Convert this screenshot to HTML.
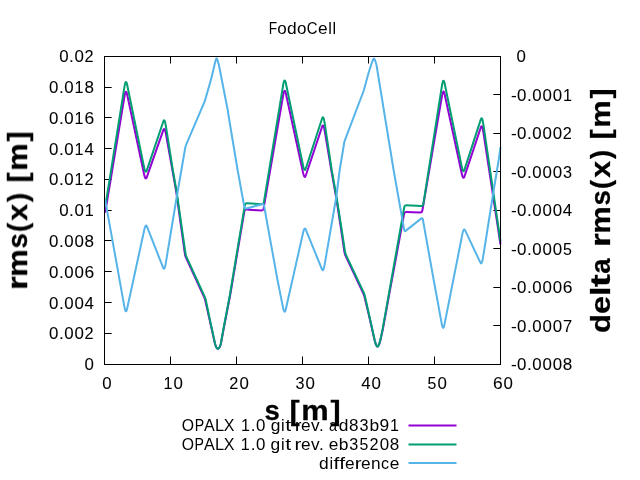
<!DOCTYPE html>
<html><head><meta charset="utf-8"><title>FodoCell</title>
<style>html,body{margin:0;padding:0;background:#fff;width:640px;height:480px;overflow:hidden}
body{font-family:"Liberation Sans",sans-serif}</style></head>
<body>
<svg width="640" height="480" viewBox="0 0 640 480" style="position:absolute;left:0;top:0;font-family:'Liberation Sans',sans-serif">
<rect x="0" y="0" width="640" height="480" fill="#ffffff"/>
<path d="M170.5 364.5v-8 M170.5 56.5v7M236.5 364.5v-8 M236.5 56.5v7M302.5 364.5v-8 M302.5 56.5v7M368.5 364.5v-8 M368.5 56.5v7M434.5 364.5v-8 M434.5 56.5v7M104.5 333.5h7.2M104.5 302.5h7.2M104.5 271.5h7.2M104.5 240.5h7.2M104.5 210.5h7.2M104.5 179.5h7.2M104.5 148.5h7.2M104.5 117.5h7.2M104.5 87.5h7.2M500.5 94.5h-7.2M500.5 133.5h-7.2M500.5 171.5h-7.2M500.5 210.5h-7.2M500.5 248.5h-7.2M500.5 287.5h-7.2M500.5 325.5h-7.2" fill="none" stroke="#000" stroke-width="1" stroke-linecap="butt"/>
<clipPath id="c"><rect x="102.0" y="56.0" width="401.0" height="309.0"/></clipPath>
<g clip-path="url(#c)">
<path fill="none" stroke="#9400D3" stroke-width="2" stroke-linejoin="round" stroke-linecap="butt" d="M105.20 212.70L124.50 96.30Q125.80 88.46 127.10 94.39L144.20 174.78Q145.50 180.64 146.80 177.14L163.30 130.13Q164.60 126.61 165.90 133.84L172.40 170.00L176.30 192.00L181.00 226.00L184.95 254.22Q185.20 256.00 185.95 257.63L204.15 297.07Q204.90 298.70 205.29 300.46L209.00 317.00L213.00 335.00L214.90 343.50L216.10 347.00L217.20 348.50L217.90 348.70L218.60 348.50L219.70 347.00L220.90 343.80L224.00 327.00L230.20 295.00L236.10 260.00L244.40 211.17Q244.70 209.40 246.50 209.52L261.40 210.48Q263.20 210.60 263.52 208.83L283.20 94.98Q284.50 87.47 285.80 93.28L303.20 173.41Q304.50 179.15 305.80 175.49L322.10 126.74Q323.40 123.04 324.70 130.77L331.30 170.00L336.20 197.50L340.60 226.00L344.44 252.22Q344.70 254.00 345.47 255.63L363.13 292.97Q363.90 294.60 364.33 296.35L368.00 311.30L372.00 328.80L374.60 340.30L375.80 344.30L376.80 346.10L377.50 346.60L378.20 346.10L379.20 344.30L380.40 340.30L382.80 329.60L390.00 290.00L395.60 260.00L404.08 213.77Q404.40 212.00 406.20 212.05L420.20 212.45Q422.00 212.50 422.31 210.73L442.00 95.83Q443.30 88.24 444.60 94.08L461.90 174.19Q463.20 179.96 464.50 176.30L480.80 127.45Q482.10 123.74 483.40 132.27L500.50 244.50"/>
<path fill="none" stroke="#009E73" stroke-width="2" stroke-linejoin="round" stroke-linecap="butt" d="M105.20 207.00L124.50 86.55Q125.80 78.44 127.10 84.58L144.20 167.85Q145.50 173.92 146.80 170.30L163.30 121.47Q164.60 117.82 165.90 126.09L172.80 170.00L176.70 192.00L181.50 226.00L185.54 253.72Q185.80 255.50 186.55 257.14L204.65 296.56Q205.40 298.20 205.77 299.96L209.30 317.00L213.20 335.00L215.00 343.50L216.10 347.00L217.20 348.50L217.90 348.70L218.60 348.50L219.60 347.00L220.80 343.80L223.80 327.00L229.90 295.00L235.70 260.00L244.90 204.88Q245.20 203.10 247.00 203.23L261.70 204.27Q263.50 204.40 263.80 202.63L283.20 84.91Q284.50 77.02 285.80 83.05L303.20 166.26Q304.50 172.23 305.80 168.48L322.10 118.48Q323.40 114.69 324.70 123.35L331.70 170.00L336.60 197.50L341.10 226.00L345.03 251.72Q345.30 253.50 346.07 255.13L363.63 292.37Q364.40 294.00 364.80 295.76L368.30 311.30L372.20 328.80L374.70 340.30L375.80 344.30L376.80 346.10L377.50 346.60L378.20 346.10L379.10 344.30L380.30 340.30L382.50 329.60L389.60 290.00L394.90 260.00L404.29 206.97Q404.60 205.20 406.40 205.30L421.20 206.10Q423.00 206.20 423.29 204.42L442.00 85.46Q443.30 77.20 444.60 83.33L461.90 167.40Q463.20 173.45 464.50 169.69L480.80 119.43Q482.10 115.62 483.40 124.52L500.50 241.50"/>
<path fill="none" stroke="#56B4E9" stroke-width="2" stroke-linejoin="round" stroke-linecap="butt" d="M105.20 200.10L124.50 307.33Q125.80 314.56 127.10 308.76L144.40 229.33Q145.70 223.60 147.00 226.68L163.20 267.83Q164.50 270.95 165.80 263.07L176.20 200.00L181.40 170.00L185.19 147.97Q185.50 146.20 186.21 144.55L204.80 101.20L211.30 78.50L214.50 65.00L215.40 61.20L216.00 59.20L216.60 58.40L217.20 59.20L217.80 61.20L218.90 65.00L227.70 110.00L230.10 125.00L237.60 170.00L244.38 207.23Q244.70 209.00 246.43 208.52L261.97 204.18Q263.70 203.70 264.02 205.47L277.50 280.00L283.20 308.35Q284.50 314.81 285.80 309.22L303.20 232.21Q304.50 226.67 305.80 229.65L322.00 269.33Q323.30 272.34 324.60 264.80L336.20 197.50L339.70 170.00L344.11 143.28Q344.40 141.50 345.04 139.82L363.60 91.00L368.40 73.50L371.10 65.00L372.50 61.00L373.30 59.20L373.90 58.50L374.50 59.20L375.30 61.00L376.50 65.00L393.60 170.00L404.19 229.93Q404.50 231.70 405.91 230.59L421.09 218.61Q422.50 217.50 422.82 219.27L433.70 280.00L441.80 324.18Q443.10 331.27 444.40 324.87L462.40 233.92Q463.70 227.59 465.00 230.11L480.50 262.84Q481.80 265.40 483.10 257.16L493.70 190.00L498.70 160.00L500.50 147.20"/>
</g>
<rect x="104.5" y="56.5" width="396.0" height="308.0" fill="none" stroke="#000" stroke-width="1"/>
<g opacity="0.999">
<text font-size="16.96px" stroke="#000" stroke-width="0.07" stroke-linejoin="round" y="370.10" fill="#000"><tspan x="84.62" textLength="9.38" lengthAdjust="spacingAndGlyphs">0</tspan></text>
<text font-size="16.96px" stroke="#000" stroke-width="0.07" stroke-linejoin="round" y="339.30" fill="#000"><tspan x="48.99" textLength="9.38" lengthAdjust="spacingAndGlyphs">0</tspan><tspan x="58.91" textLength="4.81" lengthAdjust="spacingAndGlyphs">.</tspan><tspan x="64.26" textLength="9.38" lengthAdjust="spacingAndGlyphs">0</tspan><tspan x="74.44" textLength="9.38" lengthAdjust="spacingAndGlyphs">0</tspan><tspan x="84.57" textLength="9.04" lengthAdjust="spacingAndGlyphs">2</tspan></text>
<text font-size="16.96px" stroke="#000" stroke-width="0.07" stroke-linejoin="round" y="308.50" fill="#000"><tspan x="48.99" textLength="9.38" lengthAdjust="spacingAndGlyphs">0</tspan><tspan x="58.91" textLength="4.81" lengthAdjust="spacingAndGlyphs">.</tspan><tspan x="64.26" textLength="9.38" lengthAdjust="spacingAndGlyphs">0</tspan><tspan x="74.44" textLength="9.38" lengthAdjust="spacingAndGlyphs">0</tspan><tspan x="84.61" textLength="9.38" lengthAdjust="spacingAndGlyphs">4</tspan></text>
<text font-size="16.96px" stroke="#000" stroke-width="0.07" stroke-linejoin="round" y="277.70" fill="#000"><tspan x="48.99" textLength="9.38" lengthAdjust="spacingAndGlyphs">0</tspan><tspan x="58.91" textLength="4.81" lengthAdjust="spacingAndGlyphs">.</tspan><tspan x="64.26" textLength="9.38" lengthAdjust="spacingAndGlyphs">0</tspan><tspan x="74.44" textLength="9.38" lengthAdjust="spacingAndGlyphs">0</tspan><tspan x="84.45" textLength="9.71" lengthAdjust="spacingAndGlyphs">6</tspan></text>
<text font-size="16.96px" stroke="#000" stroke-width="0.07" stroke-linejoin="round" y="246.90" fill="#000"><tspan x="48.99" textLength="9.38" lengthAdjust="spacingAndGlyphs">0</tspan><tspan x="58.91" textLength="4.81" lengthAdjust="spacingAndGlyphs">.</tspan><tspan x="64.26" textLength="9.38" lengthAdjust="spacingAndGlyphs">0</tspan><tspan x="74.44" textLength="9.38" lengthAdjust="spacingAndGlyphs">0</tspan><tspan x="84.57" textLength="9.48" lengthAdjust="spacingAndGlyphs">8</tspan></text>
<text font-size="16.96px" stroke="#000" stroke-width="0.07" stroke-linejoin="round" y="216.10" fill="#000"><tspan x="59.17" textLength="9.38" lengthAdjust="spacingAndGlyphs">0</tspan><tspan x="69.08" textLength="4.81" lengthAdjust="spacingAndGlyphs">.</tspan><tspan x="74.44" textLength="9.38" lengthAdjust="spacingAndGlyphs">0</tspan><tspan x="84.75" textLength="8.96" lengthAdjust="spacingAndGlyphs">1</tspan></text>
<text font-size="16.96px" stroke="#000" stroke-width="0.07" stroke-linejoin="round" y="185.30" fill="#000"><tspan x="48.99" textLength="9.38" lengthAdjust="spacingAndGlyphs">0</tspan><tspan x="58.91" textLength="4.81" lengthAdjust="spacingAndGlyphs">.</tspan><tspan x="64.26" textLength="9.38" lengthAdjust="spacingAndGlyphs">0</tspan><tspan x="74.57" textLength="8.96" lengthAdjust="spacingAndGlyphs">1</tspan><tspan x="84.57" textLength="9.04" lengthAdjust="spacingAndGlyphs">2</tspan></text>
<text font-size="16.96px" stroke="#000" stroke-width="0.07" stroke-linejoin="round" y="154.50" fill="#000"><tspan x="48.99" textLength="9.38" lengthAdjust="spacingAndGlyphs">0</tspan><tspan x="58.91" textLength="4.81" lengthAdjust="spacingAndGlyphs">.</tspan><tspan x="64.26" textLength="9.38" lengthAdjust="spacingAndGlyphs">0</tspan><tspan x="74.57" textLength="8.96" lengthAdjust="spacingAndGlyphs">1</tspan><tspan x="84.61" textLength="9.38" lengthAdjust="spacingAndGlyphs">4</tspan></text>
<text font-size="16.96px" stroke="#000" stroke-width="0.07" stroke-linejoin="round" y="123.70" fill="#000"><tspan x="48.99" textLength="9.38" lengthAdjust="spacingAndGlyphs">0</tspan><tspan x="58.91" textLength="4.81" lengthAdjust="spacingAndGlyphs">.</tspan><tspan x="64.26" textLength="9.38" lengthAdjust="spacingAndGlyphs">0</tspan><tspan x="74.57" textLength="8.96" lengthAdjust="spacingAndGlyphs">1</tspan><tspan x="84.45" textLength="9.71" lengthAdjust="spacingAndGlyphs">6</tspan></text>
<text font-size="16.96px" stroke="#000" stroke-width="0.07" stroke-linejoin="round" y="92.90" fill="#000"><tspan x="48.99" textLength="9.38" lengthAdjust="spacingAndGlyphs">0</tspan><tspan x="58.91" textLength="4.81" lengthAdjust="spacingAndGlyphs">.</tspan><tspan x="64.26" textLength="9.38" lengthAdjust="spacingAndGlyphs">0</tspan><tspan x="74.57" textLength="8.96" lengthAdjust="spacingAndGlyphs">1</tspan><tspan x="84.57" textLength="9.48" lengthAdjust="spacingAndGlyphs">8</tspan></text>
<text font-size="16.96px" stroke="#000" stroke-width="0.07" stroke-linejoin="round" y="62.10" fill="#000"><tspan x="59.17" textLength="9.38" lengthAdjust="spacingAndGlyphs">0</tspan><tspan x="69.08" textLength="4.81" lengthAdjust="spacingAndGlyphs">.</tspan><tspan x="74.44" textLength="9.38" lengthAdjust="spacingAndGlyphs">0</tspan><tspan x="84.57" textLength="9.04" lengthAdjust="spacingAndGlyphs">2</tspan></text>
<text font-size="16.96px" stroke="#000" stroke-width="0.07" stroke-linejoin="round" y="62.10" fill="#000"> <tspan x="516.38" textLength="9.38" lengthAdjust="spacingAndGlyphs">0</tspan></text>
<text font-size="16.96px" stroke="#000" stroke-width="0.07" stroke-linejoin="round" y="100.60" fill="#000"><tspan x="510.91" textLength="5.74" lengthAdjust="spacingAndGlyphs">-</tspan><tspan x="517.07" textLength="9.38" lengthAdjust="spacingAndGlyphs">0</tspan><tspan x="526.98" textLength="4.81" lengthAdjust="spacingAndGlyphs">.</tspan><tspan x="532.33" textLength="9.38" lengthAdjust="spacingAndGlyphs">0</tspan><tspan x="542.51" textLength="9.38" lengthAdjust="spacingAndGlyphs">0</tspan><tspan x="552.69" textLength="9.38" lengthAdjust="spacingAndGlyphs">0</tspan><tspan x="563.01" textLength="8.96" lengthAdjust="spacingAndGlyphs">1</tspan></text>
<text font-size="16.96px" stroke="#000" stroke-width="0.07" stroke-linejoin="round" y="139.10" fill="#000"><tspan x="510.91" textLength="5.74" lengthAdjust="spacingAndGlyphs">-</tspan><tspan x="517.07" textLength="9.38" lengthAdjust="spacingAndGlyphs">0</tspan><tspan x="526.98" textLength="4.81" lengthAdjust="spacingAndGlyphs">.</tspan><tspan x="532.33" textLength="9.38" lengthAdjust="spacingAndGlyphs">0</tspan><tspan x="542.51" textLength="9.38" lengthAdjust="spacingAndGlyphs">0</tspan><tspan x="552.69" textLength="9.38" lengthAdjust="spacingAndGlyphs">0</tspan><tspan x="562.83" textLength="9.04" lengthAdjust="spacingAndGlyphs">2</tspan></text>
<text font-size="16.96px" stroke="#000" stroke-width="0.07" stroke-linejoin="round" y="177.60" fill="#000"><tspan x="510.91" textLength="5.74" lengthAdjust="spacingAndGlyphs">-</tspan><tspan x="517.07" textLength="9.38" lengthAdjust="spacingAndGlyphs">0</tspan><tspan x="526.98" textLength="4.81" lengthAdjust="spacingAndGlyphs">.</tspan><tspan x="532.33" textLength="9.38" lengthAdjust="spacingAndGlyphs">0</tspan><tspan x="542.51" textLength="9.38" lengthAdjust="spacingAndGlyphs">0</tspan><tspan x="552.69" textLength="9.38" lengthAdjust="spacingAndGlyphs">0</tspan><tspan x="563.08" textLength="9.01" lengthAdjust="spacingAndGlyphs">3</tspan></text>
<text font-size="16.96px" stroke="#000" stroke-width="0.07" stroke-linejoin="round" y="216.10" fill="#000"><tspan x="510.91" textLength="5.74" lengthAdjust="spacingAndGlyphs">-</tspan><tspan x="517.07" textLength="9.38" lengthAdjust="spacingAndGlyphs">0</tspan><tspan x="526.98" textLength="4.81" lengthAdjust="spacingAndGlyphs">.</tspan><tspan x="532.33" textLength="9.38" lengthAdjust="spacingAndGlyphs">0</tspan><tspan x="542.51" textLength="9.38" lengthAdjust="spacingAndGlyphs">0</tspan><tspan x="552.69" textLength="9.38" lengthAdjust="spacingAndGlyphs">0</tspan><tspan x="562.87" textLength="9.38" lengthAdjust="spacingAndGlyphs">4</tspan></text>
<text font-size="16.96px" stroke="#000" stroke-width="0.07" stroke-linejoin="round" y="254.60" fill="#000"><tspan x="510.91" textLength="5.74" lengthAdjust="spacingAndGlyphs">-</tspan><tspan x="517.07" textLength="9.38" lengthAdjust="spacingAndGlyphs">0</tspan><tspan x="526.98" textLength="4.81" lengthAdjust="spacingAndGlyphs">.</tspan><tspan x="532.33" textLength="9.38" lengthAdjust="spacingAndGlyphs">0</tspan><tspan x="542.51" textLength="9.38" lengthAdjust="spacingAndGlyphs">0</tspan><tspan x="552.69" textLength="9.38" lengthAdjust="spacingAndGlyphs">0</tspan><tspan x="563.08" textLength="8.85" lengthAdjust="spacingAndGlyphs">5</tspan></text>
<text font-size="16.96px" stroke="#000" stroke-width="0.07" stroke-linejoin="round" y="293.10" fill="#000"><tspan x="510.91" textLength="5.74" lengthAdjust="spacingAndGlyphs">-</tspan><tspan x="517.07" textLength="9.38" lengthAdjust="spacingAndGlyphs">0</tspan><tspan x="526.98" textLength="4.81" lengthAdjust="spacingAndGlyphs">.</tspan><tspan x="532.33" textLength="9.38" lengthAdjust="spacingAndGlyphs">0</tspan><tspan x="542.51" textLength="9.38" lengthAdjust="spacingAndGlyphs">0</tspan><tspan x="552.69" textLength="9.38" lengthAdjust="spacingAndGlyphs">0</tspan><tspan x="562.71" textLength="9.71" lengthAdjust="spacingAndGlyphs">6</tspan></text>
<text font-size="16.96px" stroke="#000" stroke-width="0.07" stroke-linejoin="round" y="331.60" fill="#000"><tspan x="510.91" textLength="5.74" lengthAdjust="spacingAndGlyphs">-</tspan><tspan x="517.07" textLength="9.38" lengthAdjust="spacingAndGlyphs">0</tspan><tspan x="526.98" textLength="4.81" lengthAdjust="spacingAndGlyphs">.</tspan><tspan x="532.33" textLength="9.38" lengthAdjust="spacingAndGlyphs">0</tspan><tspan x="542.51" textLength="9.38" lengthAdjust="spacingAndGlyphs">0</tspan><tspan x="552.69" textLength="9.38" lengthAdjust="spacingAndGlyphs">0</tspan><tspan x="562.94" textLength="9.18" lengthAdjust="spacingAndGlyphs">7</tspan></text>
<text font-size="16.96px" stroke="#000" stroke-width="0.07" stroke-linejoin="round" y="370.10" fill="#000"><tspan x="510.91" textLength="5.74" lengthAdjust="spacingAndGlyphs">-</tspan><tspan x="517.07" textLength="9.38" lengthAdjust="spacingAndGlyphs">0</tspan><tspan x="526.98" textLength="4.81" lengthAdjust="spacingAndGlyphs">.</tspan><tspan x="532.33" textLength="9.38" lengthAdjust="spacingAndGlyphs">0</tspan><tspan x="542.51" textLength="9.38" lengthAdjust="spacingAndGlyphs">0</tspan><tspan x="552.69" textLength="9.38" lengthAdjust="spacingAndGlyphs">0</tspan><tspan x="562.82" textLength="9.48" lengthAdjust="spacingAndGlyphs">8</tspan></text>
<text font-size="16.96px" stroke="#000" stroke-width="0.07" stroke-linejoin="round" y="388.70" fill="#000"> <tspan x="102.35" textLength="9.38" lengthAdjust="spacingAndGlyphs">0</tspan></text>
<text font-size="16.96px" stroke="#000" stroke-width="0.07" stroke-linejoin="round" y="388.70" fill="#000"> <tspan x="163.39" textLength="8.96" lengthAdjust="spacingAndGlyphs">1</tspan><tspan x="173.44" textLength="9.38" lengthAdjust="spacingAndGlyphs">0</tspan></text>
<text font-size="16.96px" stroke="#000" stroke-width="0.07" stroke-linejoin="round" y="388.70" fill="#000"> <tspan x="229.22" textLength="9.04" lengthAdjust="spacingAndGlyphs">2</tspan><tspan x="239.44" textLength="9.38" lengthAdjust="spacingAndGlyphs">0</tspan></text>
<text font-size="16.96px" stroke="#000" stroke-width="0.07" stroke-linejoin="round" y="388.70" fill="#000"> <tspan x="295.47" textLength="9.01" lengthAdjust="spacingAndGlyphs">3</tspan><tspan x="305.44" textLength="9.38" lengthAdjust="spacingAndGlyphs">0</tspan></text>
<text font-size="16.96px" stroke="#000" stroke-width="0.07" stroke-linejoin="round" y="388.70" fill="#000"> <tspan x="361.26" textLength="9.38" lengthAdjust="spacingAndGlyphs">4</tspan><tspan x="371.44" textLength="9.38" lengthAdjust="spacingAndGlyphs">0</tspan></text>
<text font-size="16.96px" stroke="#000" stroke-width="0.07" stroke-linejoin="round" y="388.70" fill="#000"> <tspan x="427.46" textLength="8.85" lengthAdjust="spacingAndGlyphs">5</tspan><tspan x="437.44" textLength="9.38" lengthAdjust="spacingAndGlyphs">0</tspan></text>
<text font-size="16.96px" stroke="#000" stroke-width="0.07" stroke-linejoin="round" y="388.70" fill="#000"> <tspan x="493.09" textLength="9.71" lengthAdjust="spacingAndGlyphs">6</tspan><tspan x="503.44" textLength="9.38" lengthAdjust="spacingAndGlyphs">0</tspan></text>
<text font-size="16.96px" y="34.30" fill="#000"><tspan x="268.81" textLength="8.38" lengthAdjust="spacingAndGlyphs">F</tspan><tspan x="277.16" textLength="9.46" lengthAdjust="spacingAndGlyphs">o</tspan><tspan x="286.94" textLength="9.67" lengthAdjust="spacingAndGlyphs">d</tspan><tspan x="297.11" textLength="9.46" lengthAdjust="spacingAndGlyphs">o</tspan><tspan x="306.87" textLength="10.73" lengthAdjust="spacingAndGlyphs">C</tspan><tspan x="318.05" textLength="9.61" lengthAdjust="spacingAndGlyphs">e</tspan><tspan x="328.15" textLength="3.63" lengthAdjust="spacingAndGlyphs">l</tspan><tspan x="332.60" textLength="3.63" lengthAdjust="spacingAndGlyphs">l</tspan></text>
<text font-size="27.74px" font-weight="bold" stroke="#000" stroke-width="0.27" stroke-linejoin="round" y="420.00" fill="#000"><tspan x="264.41" textLength="15.33" lengthAdjust="spacingAndGlyphs">s</tspan> <tspan x="289.58" textLength="10.18" lengthAdjust="spacingAndGlyphs">[</tspan><tspan x="301.18" textLength="27.41" lengthAdjust="spacingAndGlyphs">m</tspan><tspan x="330.44" textLength="10.18" lengthAdjust="spacingAndGlyphs">]</tspan></text>
<text font-size="27.74px" font-weight="bold" stroke="#000" stroke-width="0.27" stroke-linejoin="round" transform="translate(27.00 210.50) rotate(-90)" y="0.00" fill="#000"><tspan x="-79.58" textLength="13.69" lengthAdjust="spacingAndGlyphs">r</tspan><tspan x="-66.32" textLength="27.41" lengthAdjust="spacingAndGlyphs">m</tspan><tspan x="-38.09" textLength="15.33" lengthAdjust="spacingAndGlyphs">s</tspan><tspan x="-21.58" textLength="9.16" lengthAdjust="spacingAndGlyphs">(</tspan><tspan x="-10.30" textLength="16.82" lengthAdjust="spacingAndGlyphs">x</tspan><tspan x="8.61" textLength="9.16" lengthAdjust="spacingAndGlyphs">)</tspan> <tspan x="28.08" textLength="10.18" lengthAdjust="spacingAndGlyphs">[</tspan><tspan x="39.68" textLength="27.41" lengthAdjust="spacingAndGlyphs">m</tspan><tspan x="68.94" textLength="10.18" lengthAdjust="spacingAndGlyphs">]</tspan></text>
<text font-size="27.74px" font-weight="bold" stroke="#000" stroke-width="0.27" stroke-linejoin="round" transform="translate(610.00 210.50) rotate(-90)" y="0.00" fill="#000"><tspan x="-122.58" textLength="18.97" lengthAdjust="spacingAndGlyphs">d</tspan><tspan x="-103.62" textLength="18.03" lengthAdjust="spacingAndGlyphs">e</tspan><tspan x="-85.63" textLength="9.44" lengthAdjust="spacingAndGlyphs">l</tspan><tspan x="-76.61" textLength="12.72" lengthAdjust="spacingAndGlyphs">t</tspan><tspan x="-63.16" textLength="15.39" lengthAdjust="spacingAndGlyphs">a</tspan> <tspan x="-36.58" textLength="13.69" lengthAdjust="spacingAndGlyphs">r</tspan><tspan x="-23.32" textLength="27.41" lengthAdjust="spacingAndGlyphs">m</tspan><tspan x="4.91" textLength="15.33" lengthAdjust="spacingAndGlyphs">s</tspan><tspan x="21.42" textLength="9.16" lengthAdjust="spacingAndGlyphs">(</tspan><tspan x="32.70" textLength="16.82" lengthAdjust="spacingAndGlyphs">x</tspan><tspan x="51.61" textLength="9.16" lengthAdjust="spacingAndGlyphs">)</tspan> <tspan x="71.08" textLength="10.18" lengthAdjust="spacingAndGlyphs">[</tspan><tspan x="82.68" textLength="27.41" lengthAdjust="spacingAndGlyphs">m</tspan><tspan x="111.94" textLength="10.18" lengthAdjust="spacingAndGlyphs">]</tspan></text>
<text font-size="16.96px" y="430.60" fill="#000"><tspan x="181.80" textLength="12.30" lengthAdjust="spacingAndGlyphs">O</tspan><tspan x="194.66" textLength="9.44" lengthAdjust="spacingAndGlyphs">P</tspan><tspan x="203.99" textLength="10.75" lengthAdjust="spacingAndGlyphs">A</tspan><tspan x="215.06" textLength="9.15" lengthAdjust="spacingAndGlyphs">L</tspan><tspan x="223.87" textLength="10.68" lengthAdjust="spacingAndGlyphs">X</tspan> <tspan x="240.93" textLength="8.96" lengthAdjust="spacingAndGlyphs">1</tspan><tspan x="250.71" textLength="4.81" lengthAdjust="spacingAndGlyphs">.</tspan><tspan x="256.06" textLength="9.38" lengthAdjust="spacingAndGlyphs">0</tspan> <tspan x="270.69" textLength="9.67" lengthAdjust="spacingAndGlyphs">g</tspan><tspan x="281.10" textLength="3.63" lengthAdjust="spacingAndGlyphs">i</tspan><tspan x="285.24" textLength="5.94" lengthAdjust="spacingAndGlyphs">t</tspan> <tspan x="294.69" textLength="6.83" lengthAdjust="spacingAndGlyphs">r</tspan><tspan x="300.97" textLength="9.61" lengthAdjust="spacingAndGlyphs">e</tspan><tspan x="311.08" textLength="8.63" lengthAdjust="spacingAndGlyphs">v</tspan><tspan x="319.02" textLength="4.81" lengthAdjust="spacingAndGlyphs">.</tspan> <tspan x="329.11" textLength="8.00" lengthAdjust="spacingAndGlyphs">a</tspan><tspan x="338.72" textLength="9.67" lengthAdjust="spacingAndGlyphs">d</tspan><tspan x="349.07" textLength="9.48" lengthAdjust="spacingAndGlyphs">8</tspan><tspan x="359.51" textLength="9.01" lengthAdjust="spacingAndGlyphs">3</tspan><tspan x="369.42" textLength="9.68" lengthAdjust="spacingAndGlyphs">b</tspan><tspan x="379.43" textLength="9.69" lengthAdjust="spacingAndGlyphs">9</tspan><tspan x="389.95" textLength="8.96" lengthAdjust="spacingAndGlyphs">1</tspan></text>
<path d="M408.5 425.5H456.5" stroke="#9400D3" stroke-width="2" fill="none"/>
<text font-size="16.96px" y="449.70" fill="#000"><tspan x="181.74" textLength="12.30" lengthAdjust="spacingAndGlyphs">O</tspan><tspan x="194.60" textLength="9.44" lengthAdjust="spacingAndGlyphs">P</tspan><tspan x="203.93" textLength="10.75" lengthAdjust="spacingAndGlyphs">A</tspan><tspan x="215.00" textLength="9.15" lengthAdjust="spacingAndGlyphs">L</tspan><tspan x="223.81" textLength="10.68" lengthAdjust="spacingAndGlyphs">X</tspan> <tspan x="240.87" textLength="8.96" lengthAdjust="spacingAndGlyphs">1</tspan><tspan x="250.65" textLength="4.81" lengthAdjust="spacingAndGlyphs">.</tspan><tspan x="256.00" textLength="9.38" lengthAdjust="spacingAndGlyphs">0</tspan> <tspan x="270.62" textLength="9.67" lengthAdjust="spacingAndGlyphs">g</tspan><tspan x="281.04" textLength="3.63" lengthAdjust="spacingAndGlyphs">i</tspan><tspan x="285.18" textLength="5.94" lengthAdjust="spacingAndGlyphs">t</tspan> <tspan x="294.62" textLength="6.83" lengthAdjust="spacingAndGlyphs">r</tspan><tspan x="300.91" textLength="9.61" lengthAdjust="spacingAndGlyphs">e</tspan><tspan x="311.02" textLength="8.63" lengthAdjust="spacingAndGlyphs">v</tspan><tspan x="318.96" textLength="4.81" lengthAdjust="spacingAndGlyphs">.</tspan> <tspan x="328.85" textLength="9.61" lengthAdjust="spacingAndGlyphs">e</tspan><tspan x="338.88" textLength="9.68" lengthAdjust="spacingAndGlyphs">b</tspan><tspan x="349.30" textLength="9.01" lengthAdjust="spacingAndGlyphs">3</tspan><tspan x="359.48" textLength="8.85" lengthAdjust="spacingAndGlyphs">5</tspan><tspan x="369.42" textLength="9.04" lengthAdjust="spacingAndGlyphs">2</tspan><tspan x="379.64" textLength="9.38" lengthAdjust="spacingAndGlyphs">0</tspan><tspan x="389.77" textLength="9.48" lengthAdjust="spacingAndGlyphs">8</tspan></text>
<path d="M408.5 444.5H456.5" stroke="#009E73" stroke-width="2" fill="none"/>
<text font-size="16.96px" y="468.70" fill="#000"><tspan x="319.09" textLength="9.67" lengthAdjust="spacingAndGlyphs">d</tspan><tspan x="329.51" textLength="3.63" lengthAdjust="spacingAndGlyphs">i</tspan><tspan x="333.61" textLength="5.84" lengthAdjust="spacingAndGlyphs">f</tspan><tspan x="339.24" textLength="5.84" lengthAdjust="spacingAndGlyphs">f</tspan><tspan x="344.95" textLength="9.61" lengthAdjust="spacingAndGlyphs">e</tspan><tspan x="354.74" textLength="6.83" lengthAdjust="spacingAndGlyphs">r</tspan><tspan x="361.02" textLength="9.61" lengthAdjust="spacingAndGlyphs">e</tspan><tspan x="371.03" textLength="9.59" lengthAdjust="spacingAndGlyphs">n</tspan><tspan x="381.06" textLength="8.03" lengthAdjust="spacingAndGlyphs">c</tspan><tspan x="389.80" textLength="9.61" lengthAdjust="spacingAndGlyphs">e</tspan></text>
<path d="M408.5 463.0H456.5" stroke="#56B4E9" stroke-width="2" fill="none"/>
</g>
</svg>
</body></html>
